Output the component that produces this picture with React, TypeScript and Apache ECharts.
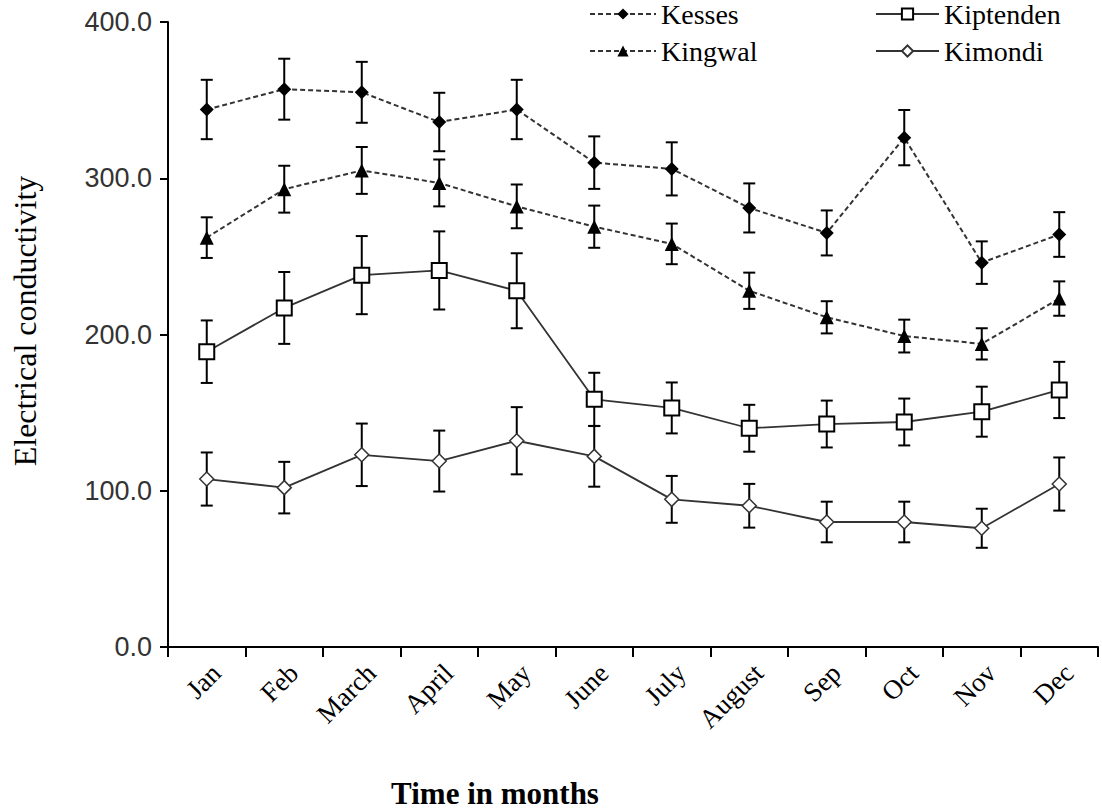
import React, { useEffect, useRef } from "react";
import * as echarts from "echarts";

const months = ["Jan", "Feb", "March", "April", "May", "June", "July", "August", "Sep", "Oct", "Nov", "Dec"];
const yTicks = [0, 100, 200, 300, 400];

const kesses = [344, 357, 355, 336, 344, 310, 306, 281, 265, 326, 246, 264];
const kessesErr = [19, 19.5, 19.5, 18.7, 19, 16.8, 17, 15.7, 14.4, 17.7, 13.6, 14.3];
const kingwal = [262, 293, 305, 297, 282, 269, 258, 228, 211, 199, 194, 223];
const kingwalErr = [13, 15, 15, 15, 14, 13.5, 13, 11.6, 10.3, 10.5, 10, 11];
const kiptenden = [189, 217, 238, 241, 228, 158.5, 153, 140, 142.7, 144, 150.6, 164.5];
const kiptendenErr = [20, 23, 25, 25, 24, 17, 16.3, 15, 15, 15, 16, 18];
const kimondi = [107.5, 102, 123, 119, 132, 122, 94.5, 90.4, 80, 80, 76, 104.3];
const kimondiErr = [17, 16.5, 20, 19.5, 21.5, 19.4, 15, 14, 13, 13, 12.5, 17];

const SERIF = "Liberation Serif";
const SANS = "Liberation Sans";

function errSeries(name: string, vals: number[], errs: number[]) {
  return {
    type: "custom",
    name: name + "-err",
    z: 1,
    silent: true,
    data: vals.map((v, i) => [i, v - errs[i], v + errs[i]]),
    renderItem: (params: any, api: any) => {
      const i = api.value(0);
      const lo = api.coord([i, api.value(1)]);
      const hi = api.coord([i, api.value(2)]);
      const hw = 6;
      const st = { stroke: "#000", lineWidth: 2 };
      return {
        type: "group",
        children: [
          { type: "line", shape: { x1: lo[0], y1: lo[1], x2: hi[0], y2: hi[1] }, style: st },
          { type: "line", shape: { x1: lo[0] - hw, y1: lo[1], x2: lo[0] + hw, y2: lo[1] }, style: st },
          { type: "line", shape: { x1: hi[0] - hw, y1: hi[1], x2: hi[0] + hw, y2: hi[1] }, style: st },
        ],
      };
    },
  };
}

export default function App() {
  const ref = useRef<HTMLDivElement>(null);
  useEffect(() => {
    if (!ref.current) return;
    const chart = echarts.init(ref.current, undefined, { renderer: "svg" });
    const legendText = { fontFamily: SERIF, fontSize: 28, color: "#000" };
    chart.setOption({
      animation: false,
      backgroundColor: "#fff",
      textStyle: { fontFamily: SERIF },
      grid: { left: 168, right: 4, top: 22, bottom: 164, containLabel: false },
      legend: [
        {
          data: ["Kesses", "Kingwal"],
          orient: "vertical",
          left: 589,
          top: 0,
          padding: 0,
          itemWidth: 66,
          itemHeight: 14,
          itemGap: 9,
          textStyle: legendText,
        },
        {
          data: ["Kiptenden", "Kimondi"],
          orient: "vertical",
          left: 875,
          top: 0,
          padding: 0,
          itemWidth: 63,
          itemHeight: 14,
          itemGap: 9,
          textStyle: legendText,
        },
      ],
      xAxis: {
        type: "category",
        data: months,
        boundaryGap: true,
        axisLine: { lineStyle: { color: "#000", width: 2 } },
        axisTick: { show: true, length: 10, lineStyle: { color: "#000", width: 2 }, alignWithLabel: false },
        axisLabel: {
          rotate: 45,
          fontFamily: SERIF,
          fontSize: 27,
          color: "#000",
          margin: 12,
          verticalAlign: "top",
        },
      },
      yAxis: {
        type: "value",
        min: yTicks[0],
        max: yTicks[yTicks.length - 1],
        interval: 100,
        splitLine: { show: false },
        axisLine: { show: true, lineStyle: { color: "#000", width: 2 } },
        axisTick: { show: true, length: 8, lineStyle: { color: "#000", width: 2 } },
        axisLabel: {
          fontFamily: SANS,
          fontSize: 27,
          color: "#333",
          margin: 16,
          formatter: (v: number) => v.toFixed(1),
        },
      },
      graphic: [
        {
          type: "text",
          x: 25,
          y: 321,
          rotation: Math.PI / 2,
          style: {
            text: "Electrical conductivity",
            fontFamily: SERIF,
            fontSize: 32,
            fill: "#000",
            align: "center",
            verticalAlign: "middle",
          },
        },
        {
          type: "text",
          x: 495,
          y: 793,
          style: {
            text: "Time in months",
            fontFamily: SERIF,
            fontWeight: "bold",
            fontSize: 31,
            fill: "#000",
            align: "center",
            verticalAlign: "middle",
          },
        },
      ],
      series: [
        errSeries("Kesses", kesses, kessesErr),
        errSeries("Kingwal", kingwal, kingwalErr),
        errSeries("Kiptenden", kiptenden, kiptendenErr),
        errSeries("Kimondi", kimondi, kimondiErr),
        {
          name: "Kesses",
          type: "line",
          z: 3,
          data: kesses,
          symbol: "diamond",
          symbolSize: 14,
          itemStyle: { color: "#000" },
          lineStyle: { color: "#333", width: 2, type: [5, 3] },
        },
        {
          name: "Kiptenden",
          type: "line",
          z: 3,
          data: kiptenden,
          symbol: "rect",
          symbolSize: 15,
          itemStyle: { color: "#fff", borderColor: "#000", borderWidth: 2 },
          lineStyle: { color: "#333", width: 1.8, type: "solid" },
        },
        {
          name: "Kingwal",
          type: "line",
          z: 3,
          data: kingwal,
          symbol: "triangle",
          symbolSize: 14,
          itemStyle: { color: "#000" },
          lineStyle: { color: "#333", width: 2, type: [5, 3] },
        },
        {
          name: "Kimondi",
          type: "line",
          z: 3,
          data: kimondi,
          symbol: "diamond",
          symbolSize: 14,
          itemStyle: { color: "#fff", borderColor: "#333", borderWidth: 1.5 },
          lineStyle: { color: "#333", width: 1.8, type: "solid" },
        },
      ],
    });
    return () => chart.dispose();
  }, []);
  return (
    <div
      ref={ref}
      style={{ position: "fixed", left: 0, top: 0, width: 1102, height: 811, background: "#fff" }}
    />
  );
}
